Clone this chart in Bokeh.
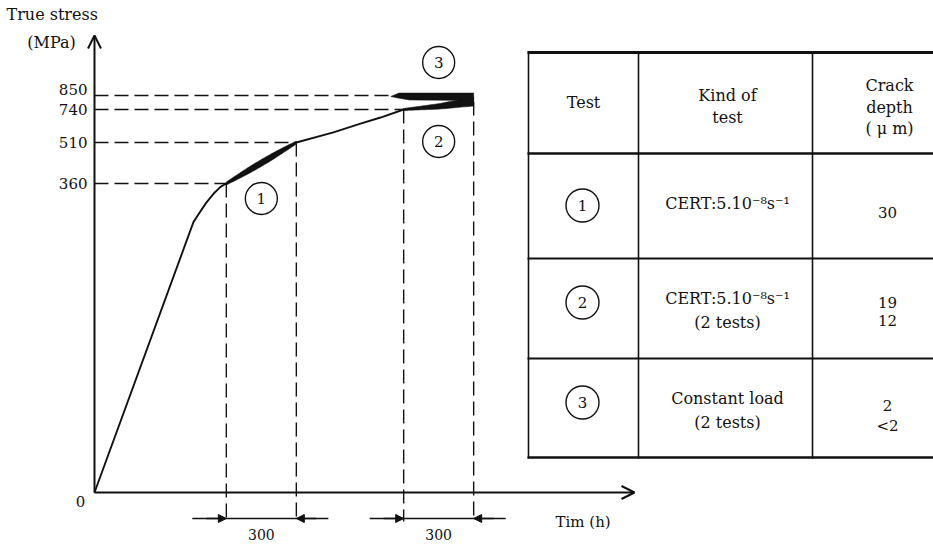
import numpy as np
from bokeh.plotting import figure
from bokeh.models import Range1d, Arrow, OpenHead, NormalHead
from bokeh.core.properties import value
from bokeh.embed import file_html
from bokeh.resources import INLINE

# ---------------- data ----------------
curve_time_h = [0, 424, 450, 480, 510, 540, 565, 715, 865, 1024, 1140, 1226, 1325, 1475, 1625]
curve_stress_mpa = [0, 315, 326, 338, 348, 356, 360, 435, 510, 580, 642, 684, 740, 764, 803]

stress_ticks = [360, 510, 740, 850]
stress_tick_labels = ["360", "510", "740", "850"]

test_ids = ["1", "2", "3"]
test1_window_h = [565, 865]
test2_window_h = [1325, 1625]
test3_window_h = [1325, 1625]
test3_load_mpa = 850
window_length_labels = ["300", "300"]

table_headers = [["Test"], ["Kind of", "test"], ["Crack", "depth", "( μ m)"]]
table_kind = [["CERT:5.10⁻⁸s⁻¹"], ["CERT:5.10⁻⁸s⁻¹", "(2 tests)"], ["Constant load", "(2 tests)"]]
table_depth = [["30"], ["19", "12"], ["2", "<2"]]

# schematic (non-proportional) stress ordinate of the original drawing
SCALE_STRESS = [0, 360, 510, 740, 850, 1100]
SCALE_HEIGHT = [0, 309, 350, 383, 397, 420]


def sy(s):
    return np.interp(s, SCALE_STRESS, SCALE_HEIGHT)


# layout helpers (page pixels -> plot units)
H_PER_PX = 300 / 70


def X(px):
    return (px - 94) * H_PER_PX


def Y(py):
    return 492 - py


SERIF = value("DejaVu Serif")
INK = "#111111"

p = figure(width=933, height=546,
           x_range=Range1d(X(0), X(933)), y_range=Range1d(Y(546), Y(0)),
           x_axis_type=None, y_axis_type=None,
           output_backend="svg", toolbar_location=None, min_border=0)
p.grid.visible = False
p.outline_line_color = None
p.background_fill_color = "white"
p.border_fill_color = "white"


def txt(xs, ys, texts, size=14, align="center", baseline="middle"):
    p.text(x=list(xs), y=list(ys), text=list(texts), text_font=SERIF,
           text_font_size=f"{size}px", text_align=align,
           text_baseline=baseline, text_color=INK)


ct = np.array(curve_time_h, float)
cs = np.array(curve_stress_mpa, float)

# ---- axes with arrow heads ----
p.add_layout(Arrow(end=OpenHead(size=13, line_width=2, line_color=INK),
                   x_start=0, y_start=0, x_end=0, y_end=Y(35),
                   line_width=2, line_color=INK))
p.add_layout(Arrow(end=OpenHead(size=13, line_width=2, line_color=INK),
                   x_start=0, y_start=0, x_end=X(634), y_end=0,
                   line_width=2, line_color=INK))

txt([X(6)], [Y(14)], ["True stress"], size=16, align="left")
txt([X(51)], [Y(42)], ["(MPa)"], size=16)
txt([X(80)], [Y(501)], ["0"], size=15)
for s, lab in zip(stress_ticks, stress_tick_labels):
    off = 6 if s == test3_load_mpa else 0
    txt([X(87)], [sy(s) + off], [lab], size=15, align="right")
txt([X(555)], [Y(521)], ["Tim (h)"], size=15, align="left")

# ---- dashed guide lines ----
b0, b1 = test3_window_h
for s in stress_ticks:
    x_end = b0 - 55 if s == test3_load_mpa else float(np.interp(s, cs, ct))
    p.line([0, x_end], [sy(s), sy(s)], line_color=INK, line_width=1.5,
           line_dash="14 6")
for w in test1_window_h + test2_window_h:
    top = float(sy(np.interp(w, ct, cs)))
    p.line([w, w], [top, Y(521)], line_color=INK, line_width=1.4,
           line_dash="14 6")

# ---- stress-time curve ----
p.line(ct, sy(cs), line_color=INK, line_width=1.9)

# test 1: thickened lens along the curve
u = np.linspace(0, 1, 30)
t1 = np.linspace(test1_window_h[0], test1_window_h[1], 30)
y1 = sy(np.interp(t1, ct, cs))
th1 = 3.0 + 4.0 * np.sin(np.pi * u)
p.patch(np.concatenate([t1, t1[::-1]]),
        np.concatenate([y1 + th1 / 2, (y1 - th1 / 2)[::-1]]),
        fill_color=INK, line_color=INK, line_width=0.5)

# test 2: widening wedge along the curve
t2 = np.linspace(test2_window_h[0], test2_window_h[1], 30)
y2 = sy(np.interp(t2, ct, cs))
th2 = 2.0 + 7.0 * u
p.patch(np.concatenate([t2, t2[::-1]]),
        np.concatenate([y2 + th2 / 2, (y2 - th2 / 2)[::-1]]),
        fill_color=INK, line_color=INK, line_width=0.5)

# test 3: constant-load bar
yb = float(sy(test3_load_mpa))
p.patch([b0 - 55, b0 - 20, b1, b1, b0 + 25, b0 - 25],
        [yb - 1, yb + 2.5, yb + 2.5, yb - 5, yb - 4.5, yb - 2.5],
        fill_color=INK, line_color=INK, line_width=0.5)

# circled test numbers on the curve plot
circ_x = [np.mean(test1_window_h), np.mean(test2_window_h), np.mean(test3_window_h)]
circ_y = [Y(198), Y(141), Y(62)]
p.scatter(circ_x, circ_y, size=32, marker="circle", fill_color="white",
          line_color=INK, line_width=1.4)
txt(circ_x, circ_y, test_ids, size=15)

# ---- 300 h dimension lines ----
ydim = Y(518)
for (w0, w1), lab in zip([test1_window_h, test2_window_h], window_length_labels):
    p.line([w0 - 34 * H_PER_PX, w1 + 32 * H_PER_PX], [ydim, ydim],
           line_color=INK, line_width=1.5)
    p.add_layout(Arrow(end=NormalHead(size=8, fill_color=INK, line_color=INK),
                       x_start=w0 - 20 * H_PER_PX, y_start=ydim, x_end=w0, y_end=ydim,
                       line_width=1.5, line_color=INK))
    p.add_layout(Arrow(end=NormalHead(size=8, fill_color=INK, line_color=INK),
                       x_start=w1 + 20 * H_PER_PX, y_start=ydim, x_end=w1, y_end=ydim,
                       line_width=1.5, line_color=INK))
    txt([(w0 + w1) / 2], [Y(534)], [lab], size=14)

# ---- table ----
col_px = [528, 638, 812]
row_px = [52, 153, 258, 358, 457]
row_w = [3, 2.5, 2, 2, 2.5]
for rp, lw in zip(row_px, row_w):
    p.line([X(527), X(960)], [Y(rp), Y(rp)], line_color=INK, line_width=lw)
for cp in col_px:
    p.line([X(cp), X(cp)], [Y(51), Y(458)], line_color=INK, line_width=1.6)

col_c = [583, 727, 889]
# header
head_y = [[102], [95, 117], [85, 107, 128]]
for ci, (lines, ys) in enumerate(zip(table_headers, head_y)):
    txt([X(col_c[ci])] * len(lines), [Y(v) for v in ys], lines, size=16)

row_c = [205, 302, 402]
p.scatter([X(582)] * 3, [Y(v) for v in row_c], size=33, marker="circle",
          fill_color="white", line_color=INK, line_width=1.4)
txt([X(582)] * 3, [Y(v) for v in row_c], test_ids, size=15)

kind_y = [[203], [298, 322], [398, 422]]
for lines, ys in zip(table_kind, kind_y):
    txt([X(col_c[1])] * len(lines), [Y(v) for v in ys], lines, size=16)
depth_y = [[212], [302, 320], [405, 425]]
for lines, ys in zip(table_depth, depth_y):
    txt([X(col_c[2] - 2)] * len(lines), [Y(v) for v in ys], lines, size=15)

open("out.html", "w").write(file_html(p, INLINE))
